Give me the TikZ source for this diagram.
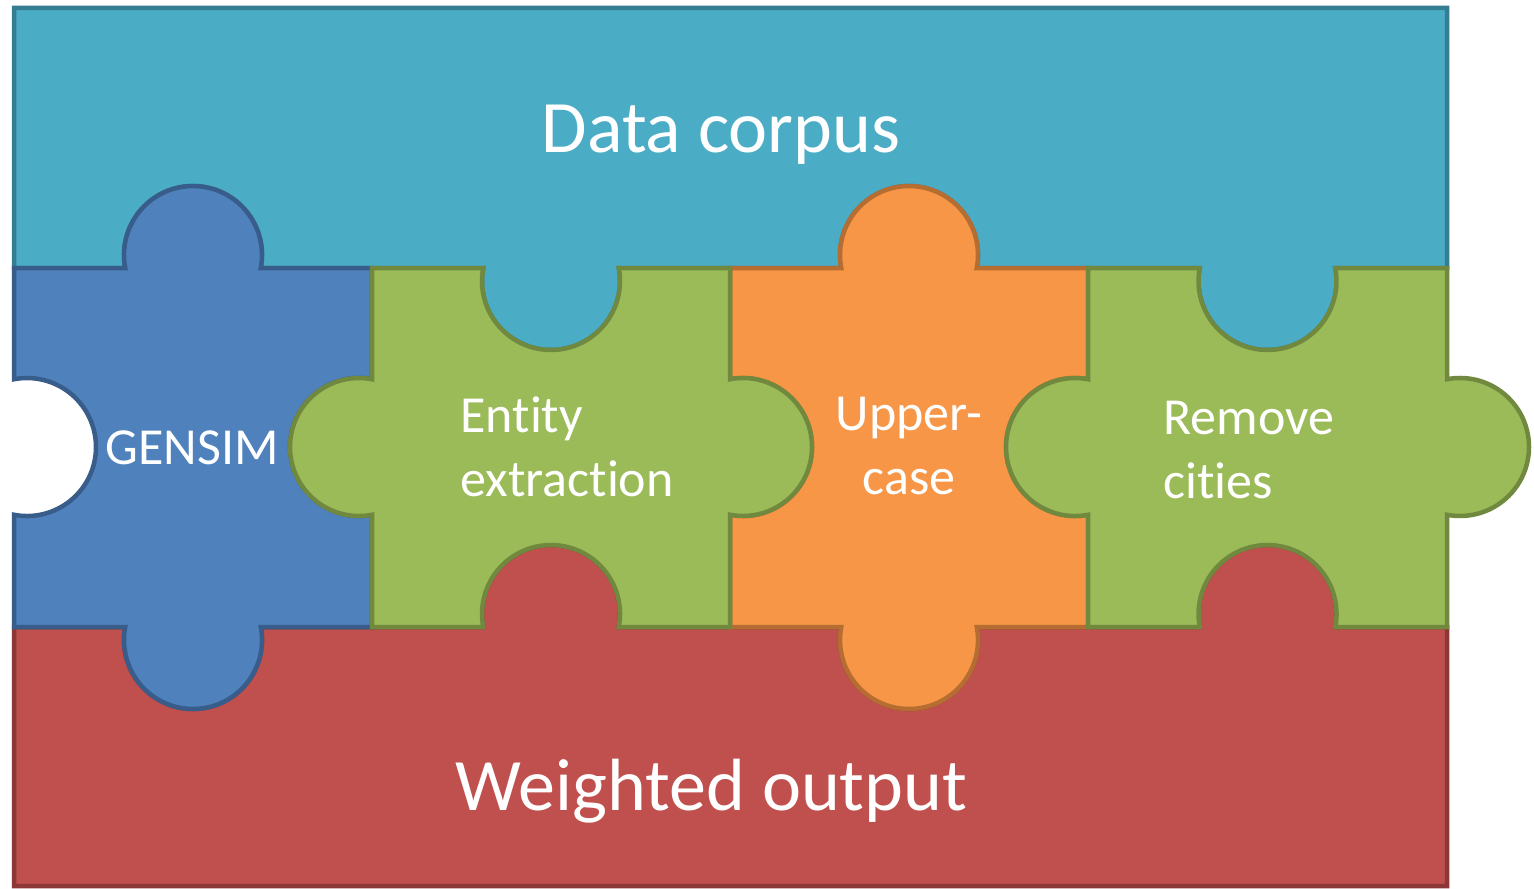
\documentclass[tikz,border=0pt]{standalone}
\usepackage{fontspec}
\setmainfont{Carlito}[Ligatures={NoCommon,NoContextual}]

% piece colours (fill / outline)
\definecolor{aquaF}{HTML}{4BACC6}\definecolor{aquaD}{HTML}{357D91}
\definecolor{blueF}{HTML}{4F81BD}\definecolor{blueD}{HTML}{385D8A}
\definecolor{greenF}{HTML}{9BBB59}\definecolor{greenD}{HTML}{71893F}
\definecolor{orangeF}{HTML}{F79646}\definecolor{orangeD}{HTML}{B66D31}
\definecolor{redF}{HTML}{C0504D}\definecolor{redD}{HTML}{8C3836}

% knob geometry: radius, half neck width, neck angle
\def\kr{69}
\def\kh{67.77}
\def\ka{10.86}

% edge features (y axis points down): Out = knob, In = socket
\newcommand\pzTopOut[2]{-- ({#1-\kh},#2) arc[start angle={180-\ka}, end angle={360+\ka}, radius=\kr]}
\newcommand\pzTopIn[2]{-- ({#1-\kh},#2) arc[start angle={180+\ka}, end angle={-\ka}, radius=\kr]}
\newcommand\pzRightOut[2]{-- (#1,{#2-\kh}) arc[start angle={270-\ka}, end angle={450+\ka}, radius=\kr]}
\newcommand\pzRightIn[2]{-- (#1,{#2-\kh}) arc[start angle={270+\ka}, end angle={90-\ka}, radius=\kr]}
\newcommand\pzBotOut[2]{-- ({#1+\kh},#2) arc[start angle={-\ka}, end angle={180+\ka}, radius=\kr]}
\newcommand\pzBotIn[2]{-- ({#1+\kh},#2) arc[start angle={\ka}, end angle={-180-\ka}, radius=\kr]}
\newcommand\pzLeftOut[2]{-- (#1,{#2+\kh}) arc[start angle={90-\ka}, end angle={270+\ka}, radius=\kr]}
\newcommand\pzLeftIn[2]{-- (#1,{#2+\kh}) arc[start angle={90+\ka}, end angle={-90-\ka}, radius=\kr]}

\begin{document}
\begin{tikzpicture}[x=0.5pt, y=-0.5pt,
  piece/.style={line width=2.25pt, line join=miter},
  biglbl/.style={text=white, inner sep=0pt, font=\fontsize{37}{45}\selectfont},
  lbl/.style={text=white, inner sep=0pt, font=\fontsize{26}{32}\selectfont}]
\useasboundingbox (0,0) rectangle (1534,888);

% Data corpus band
\draw[piece, fill=aquaF, draw=aquaD]
  (14,8) -- (1447,8) -- (1447,268)
  \pzBotOut{1267.5}{268} \pzBotIn{909}{268} \pzBotOut{551}{268} \pzBotIn{193}{268}
  -- (14,268) -- cycle;

% Weighted output band
\draw[piece, fill=redF, draw=redD]
  (14,627) \pzTopIn{193}{627} \pzTopOut{551}{627} \pzTopIn{909}{627} \pzTopOut{1267.5}{627}
  -- (1447,627) -- (1447,886) -- (14,886) -- cycle;

% GENSIM
\draw[piece, fill=blueF, draw=blueD]
  (14,268) \pzTopOut{193}{268} -- (372,268)
  \pzRightIn{372}{447} -- (372,627)
  \pzBotOut{193}{627} -- (14,627)
  \pzLeftIn{14}{447} -- cycle;

% Upper-case
\draw[piece, fill=orangeF, draw=orangeD]
  (730,268) \pzTopOut{909}{268} -- (1088,268)
  \pzRightIn{1088}{447} -- (1088,627)
  \pzBotOut{909}{627} -- (730,627)
  \pzLeftIn{730}{447} -- cycle;

% Entity extraction
\draw[piece, fill=greenF, draw=greenD]
  (372,268) \pzTopIn{551}{268} -- (730,268)
  \pzRightOut{730}{447} -- (730,627)
  \pzBotIn{551}{627} -- (372,627)
  \pzLeftOut{372}{447} -- cycle;

% Remove cities
\draw[piece, fill=greenF, draw=greenD]
  (1088,268) \pzTopIn{1267.5}{268} -- (1447,268)
  \pzRightOut{1447}{447} -- (1447,627)
  \pzBotIn{1267.5}{627} -- (1088,627)
  \pzLeftOut{1088}{447} -- cycle;

% labels (base anchor of a two-line label sits on its last line)
\node[biglbl, anchor=base] (corpus) at (721,152) {Data corpus};
\node[biglbl, anchor=base] (output) at (711.5,810) {Weighted output};
\node[lbl, anchor=base] (gensim) at (192,464) {GENSIM};
\node[lbl, anchor=base west, align=left] (entity) at (460,496) {Entity\\extraction};
\node[lbl, anchor=base, align=center] (upper) at (909,494) {Upper-\\case};
\node[lbl, anchor=base west, align=left] (cities) at (1163,498) {Remove\\cities};
\end{tikzpicture}
\end{document}
